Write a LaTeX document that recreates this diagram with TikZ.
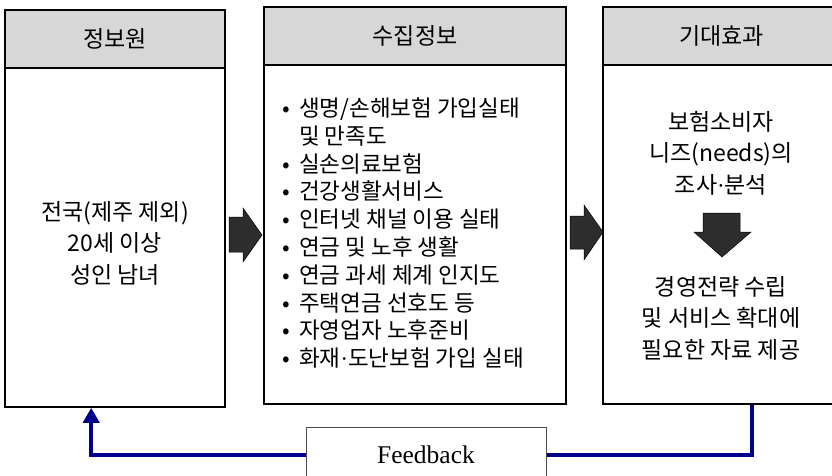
\documentclass[tikz,border=0pt]{standalone}
\usepackage{fontspec}
\setmainfont{Noto Sans CJK KR}
\newfontfamily\fbfont{Liberation Serif}
\newcommand{\mdot}{{\fbfont ·}}
\usetikzlibrary{arrows.meta}
\definecolor{hdrgray}{RGB}{215,215,215}
\definecolor{navyline}{RGB}{0,0,140}
\definecolor{arrowdark}{RGB}{45,45,45}
\begin{document}
\begin{tikzpicture}[x=1pt,y=-1pt,
  hdr/.style={draw=black, line width=1.6pt, fill=hdrgray, inner sep=0pt, font=\fontsize{23}{26}\selectfont},
  bodybox/.style={draw=black, line width=1.6pt, fill=white, inner sep=0pt},
  bodytext/.style={align=center, inner sep=0pt, font=\fontsize{23}{31.5}\selectfont},
  listtext/.style={align=left, inner sep=0pt, anchor=west, font=\fontsize{22.5}{27.8}\selectfont},
  blockarrow/.style={fill=arrowdark, draw=black, line width=0.5pt},
  fbbox/.style={draw=gray!60!black, line width=1pt, fill=white, inner sep=0pt, font=\fbfont\fontsize{25.5}{28}\selectfont},
  fbline/.style={draw=navyline, line width=4pt}
]
\useasboundingbox (0,0) rectangle (832,475);
% column 1
\node[bodybox, minimum width=220pt, minimum height=339pt] (b1) at (115,237.5) {};
\node[hdr, minimum width=220pt, minimum height=58pt] (h1) at (115,39) {정보원};
\node[bodytext] (t1) at (115,243) {전국(제주 제외)\\20세 이상\\성인 남녀};
% column 2
\node[bodybox, minimum width=302pt, minimum height=339pt] (b2) at (415,234.5) {};
\node[hdr, minimum width=302pt, minimum height=58pt] (h2) at (415,36) {수집정보};
\node[listtext] (t2) at (282,233) {%
\makebox[17pt][l]{•}생명/손해보험 가입실태\\
\hspace*{17pt}및 만족도\\
\makebox[17pt][l]{•}실손의료보험\\
\makebox[17pt][l]{•}건강생활서비스\\
\makebox[17pt][l]{•}인터넷 채널 이용 실태\\
\makebox[17pt][l]{•}연금 및 노후 생활\\
\makebox[17pt][l]{•}연금 과세 체계 인지도\\
\makebox[17pt][l]{•}주택연금 선호도 등\\
\makebox[17pt][l]{•}자영업자 노후준비\\
\makebox[17pt][l]{•}화재\mdot 도난보험 가입 실태};
% column 3
\node[bodybox, minimum width=237pt, minimum height=339pt] (b3) at (721.5,234.5) {};
\node[hdr, minimum width=237pt, minimum height=58pt] (h3) at (721.5,36) {기대효과};
\node[bodytext] (t3a) at (721,153) {보험소비자\\니즈(needs)의\\조사\mdot 분석};
\node[bodytext] (t3b) at (721,318) {경영전략 수립\\및 서비스 확대에\\필요한 자료 제공};
% block arrows
\path[blockarrow] (229,217) -- (243,217) -- (243,208) -- (262,235) -- (243,262) -- (243,252) -- (229,252) -- cycle;
\path[blockarrow] (570,216) -- (584,216) -- (584,205) -- (603,232) -- (584,260) -- (584,249) -- (570,249) -- cycle;
\path[blockarrow] (703,213) -- (740,213) -- (740,232) -- (751,232) -- (722,257) -- (694,232) -- (703,232) -- cycle;
% feedback
\node[fbbox, minimum width=240pt, minimum height=56pt] (fb) at (426,455) {Feedback};
\draw[fbline, -{Triangle[width=16pt,length=15pt]}] (fb.west) -| ([xshift=87pt]b1.south west);
\draw[fbline] (fb.east) -| ([xshift=150pt]b3.south west);
\end{tikzpicture}
\end{document}
